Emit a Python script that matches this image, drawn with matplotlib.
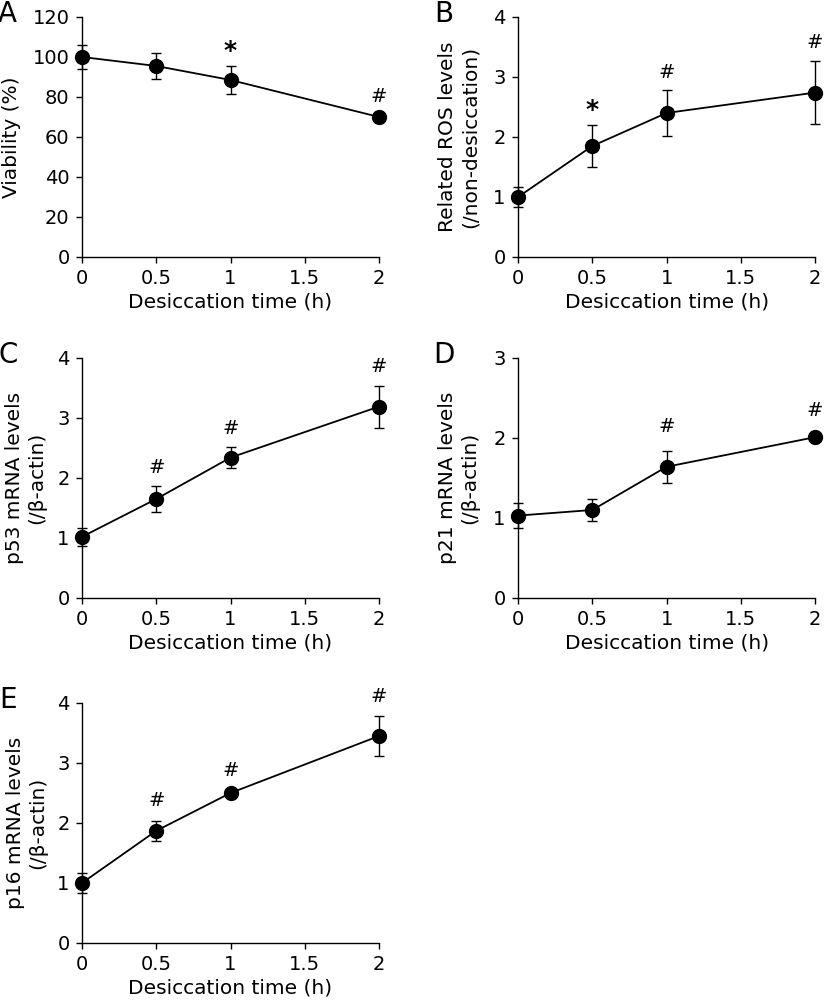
import numpy as np
import matplotlib.pyplot as plt

# desiccation time points (h)
zaman = [0, 0.5, 1, 2]

# A - viability
via_ort = [100, 95.5, 88.5, 70]
via_hata = [6, 6.5, 7, 1]
via_isaret = [None, None, "*", "#"]

# B - ROS
ros_ort = [1.0, 1.85, 2.4, 2.74]
ros_hata = [0.16, 0.345, 0.38, 0.53]
ros_isaret = [None, "*", "#", "#"]

# C - p53
p53_ort = [1.02, 1.65, 2.34, 3.19]
p53_hata = [0.15, 0.21, 0.17, 0.35]
p53_isaret = [None, "#", "#", "#"]

# D - p21
p21_ort = [1.03, 1.1, 1.64, 2.01]
p21_hata = [0.16, 0.14, 0.2, 0.03]
p21_isaret = [None, None, "#", "#"]

# E - p16
p16_ort = [1.0, 1.87, 2.5, 3.45]
p16_hata = [0.16, 0.17, 0.05, 0.33]
p16_isaret = [None, "#", "#", "#"]

plt.rcParams["font.family"] = ["DejaVu Sans"]

fig = plt.figure(figsize=(8.25, 10.05), dpi=100)

genislik = 0.36
yukseklik = 0.2388
paneller = [
    # harf, konum, ort, hata, isaret, ylim, yticks, ylabel, label_x, isaret_ofset
    ("A", [0.0994, 0.7443], via_ort, via_hata, via_isaret, 120, np.arange(0, 121, 20),
     "Viability (%)", -0.205, 9),
    ("B", [0.628, 0.7443], ros_ort, ros_hata, ros_isaret, 4, np.arange(0, 5, 1),
     "Related ROS levels\n(/non-desiccation)", -0.13, 0.3),
    ("C", [0.0994, 0.405], p53_ort, p53_hata, p53_isaret, 4, np.arange(0, 5, 1),
     "p53 mRNA levels\n(/β-actin)", -0.122, 0.32),
    ("D", [0.628, 0.405], p21_ort, p21_hata, p21_isaret, 3, np.arange(0, 4, 1),
     "p21 mRNA levels\n(/β-actin)", -0.13, 0.3),
    ("E", [0.0994, 0.0617], p16_ort, p16_hata, p16_isaret, 4, np.arange(0, 5, 1),
     "p16 mRNA levels\n(/β-actin)", -0.118, 0.33),
]

for harf, konum, ort, hata, isaret, ust, yt, ylab, lx, ofset in paneller:
    ax = fig.add_axes([konum[0], konum[1], genislik, yukseklik])
    cizgi = ax.errorbar(zaman, ort, yerr=hata, color="black", marker="o", markersize=10,
                        linewidth=1.3, elinewidth=1, capsize=3.5, capthick=1)
    # kenardaki noktalar kesilmesin
    for parca in [cizgi.lines[0]] + list(cizgi.lines[1]) + list(cizgi.lines[2]):
        parca.set_clip_on(False)
    ax.set_xlim(0, 2)
    ax.set_ylim(0, ust)
    ax.set_xticks([0, 0.5, 1, 1.5, 2])
    ax.set_xticklabels(["0", "0.5", "1", "1.5", "2"])
    ax.set_yticks(yt)
    for s in ["top", "right"]:
        ax.spines[s].set_visible(False)
    ax.spines["left"].set_linewidth(1)
    ax.spines["bottom"].set_linewidth(1)
    ax.tick_params(direction="out", length=4, width=1, labelsize=14, pad=5)
    ax.set_xlabel("Desiccation time (h)", fontsize=14.5, labelpad=3)
    ax.set_ylabel(ylab, fontsize=14.5, linespacing=1.2)
    ax.yaxis.set_label_coords(lx, 0.5)

    for x, y, e, t in zip(zaman, ort, hata, isaret):
        if t is None:
            continue
        if t == "*":
            ax.text(x, y + e + ofset * 0.85, t, ha="center", va="center",
                    fontsize=18, fontweight="bold", clip_on=False)
        else:
            ax.text(x, y + e + ofset, t, ha="center", va="center",
                    fontsize=14, clip_on=False)

    ax.text(konum[0] - 0.09, konum[1] + yukseklik + 0.003, harf,
            transform=fig.transFigure, fontsize=20, ha="center", va="center")

fig.savefig("out.png", dpi=100)
